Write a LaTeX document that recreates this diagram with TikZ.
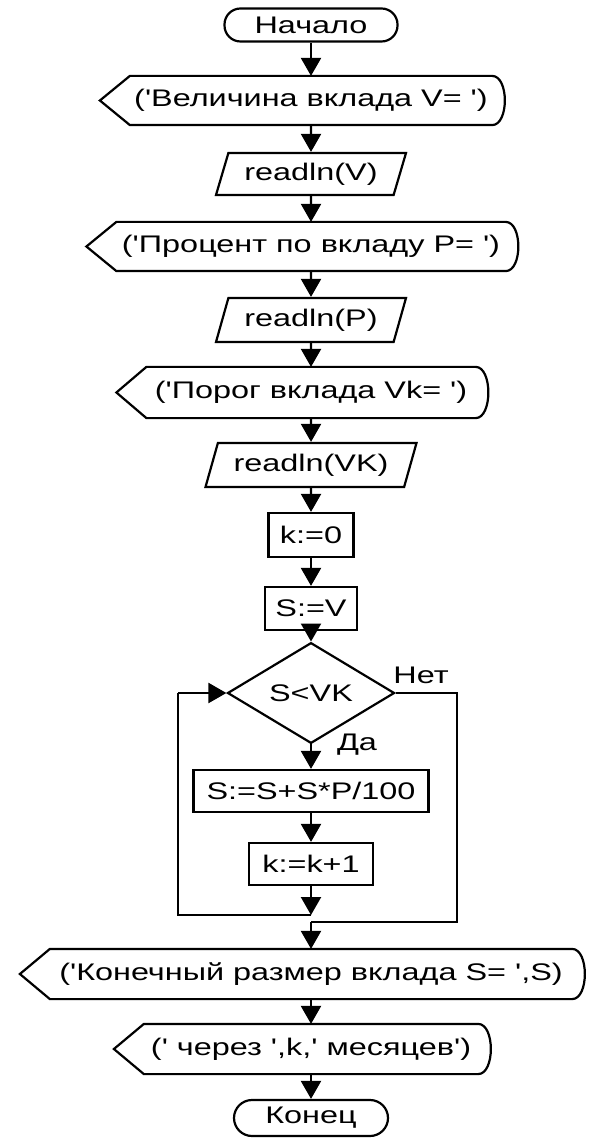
\documentclass[tikz,border=0pt]{standalone}
\usepackage{fontspec}
\setmainfont[FakeStretch=1.35,Ligatures=TeXOff]{Liberation Sans}
\usetikzlibrary{arrows.meta,shapes.geometric}

\tikzset{
  term/.style={draw,rectangle,rounded corners=8pt,inner sep=0pt},
  outp/.style={rectangle,inner sep=0pt},
  inp/.style={draw,trapezium,trapezium left angle=61,trapezium right angle=119,
    trapezium stretches body,inner sep=0pt},
  proc/.style={draw,rectangle,inner sep=0pt},
  decision/.style={draw,diamond,inner sep=0pt},
}

\begin{document}
\begin{tikzpicture}[x=0.5pt,y=-0.5pt,->,>={Triangle[length=9pt,width=10pt]},
    line width=1.1pt,font=\fontsize{12}{14}\selectfont]
   \useasboundingbox (0,0) rectangle (590,1138);
   \node[term,minimum width=86.5pt,minimum height=16.5pt] (start) at (311,25) {Начало};
   \node[outp,minimum width=180pt,minimum height=23.5pt] (out1) at (311,100.5) {('Величина вклада V= ')};
   \node[inp,minimum width=95pt,minimum height=21pt] (rdV) at (311,174) {readln(V)};
   \node[outp,minimum width=193.5pt,minimum height=23.5pt] (out2) at (311,246.5) {('Процент по вкладу P= ')};
   \node[inp,minimum width=95pt,minimum height=22pt] (rdP) at (311,320) {readln(P)};
   \node[outp,minimum width=163.5pt,minimum height=24.5pt] (out3) at (311,392.5) {('Порог вклада Vk= ')};
   \node[inp,minimum width=105.5pt,minimum height=22pt] (rdVK) at (311,465) {readln(VK)};
   \node[proc,minimum width=42.5pt,minimum height=22pt] (k0) at (311,535) {k:=0};
   \node[proc,minimum width=46pt,minimum height=21.5pt] (sV) at (311,608.5) {S:=V};
   \node[decision,minimum width=83.5pt,minimum height=33.5pt] (test) at (311,693) {S<VK};
   \node[proc,minimum width=117.5pt,minimum height=21pt] (upd) at (311,791) {S:=S+S*P/100};
   \node[proc,minimum width=62pt,minimum height=21pt] (inc) at (311,864) {k:=k+1};
   \node[outp,minimum width=260pt,minimum height=24pt] (out4) at (311,974) {('Конечный размер вклада S= ',S)};
   \node[outp,minimum width=166pt,minimum height=24pt] (out5) at (311,1049) {(' через ',k,' месяцев')};
   \node[term,minimum width=77pt,minimum height=18pt,rounded corners=9pt] (stop) at (311,1118) {Конец};
   \node (yes) at (357,745) {Да};
   \node (no) at (421,675) {Нет};

   \draw[-] (out1.north west) -- ([xshift=-15pt]out1.west) -- (out1.south west) -- (out1.south east)
      .. controls ([xshift=8.5pt]out1.south east) and ([xshift=8.5pt]out1.north east) .. (out1.north east) -- cycle;
   \draw[-] (out2.north west) -- ([xshift=-15pt]out2.west) -- (out2.south west) -- (out2.south east)
      .. controls ([xshift=8.5pt]out2.south east) and ([xshift=8.5pt]out2.north east) .. (out2.north east) -- cycle;
   \draw[-] (out3.north west) -- ([xshift=-15pt]out3.west) -- (out3.south west) -- (out3.south east)
      .. controls ([xshift=8.5pt]out3.south east) and ([xshift=8.5pt]out3.north east) .. (out3.north east) -- cycle;
   \draw[-] (out4.north west) -- ([xshift=-15pt]out4.west) -- (out4.south west) -- (out4.south east)
      .. controls ([xshift=8.5pt]out4.south east) and ([xshift=8.5pt]out4.north east) .. (out4.north east) -- cycle;
   \draw[-] (out5.north west) -- ([xshift=-15pt]out5.west) -- (out5.south west) -- (out5.south east)
      .. controls ([xshift=8.5pt]out5.south east) and ([xshift=8.5pt]out5.north east) .. (out5.north east) -- cycle;

   \coordinate (lb) at (311,915);
   \coordinate (ll) at (178,915);
   \coordinate (lt) at (178,693);
   \coordinate (rt) at (457,693);
   \coordinate (rb) at (457,922);
   \coordinate (jn) at (311,922);

   \path (start) edge (out1);
   \path (out1) edge (rdV);
   \path (rdV) edge (out2);
   \path (out2) edge (rdP);
   \path (rdP) edge (out3);
   \path (out3) edge (rdVK);
   \path (rdVK) edge (k0);
   \path (k0) edge (sV);
   \path (sV) edge (test);
   \path (test) edge (upd);
   \path (upd) edge (inc);
   \path (inc) edge (lb);
   \draw[-] (lb) -- (ll) -- (lt);
   \path (lt) edge (test);
   \draw[-] (test) -- (rt) -- (rb) -- (jn);
   \path (jn) edge (out4);
   \path (out4) edge (out5);
   \path (out5) edge (stop);

\end{tikzpicture}
\end{document}
